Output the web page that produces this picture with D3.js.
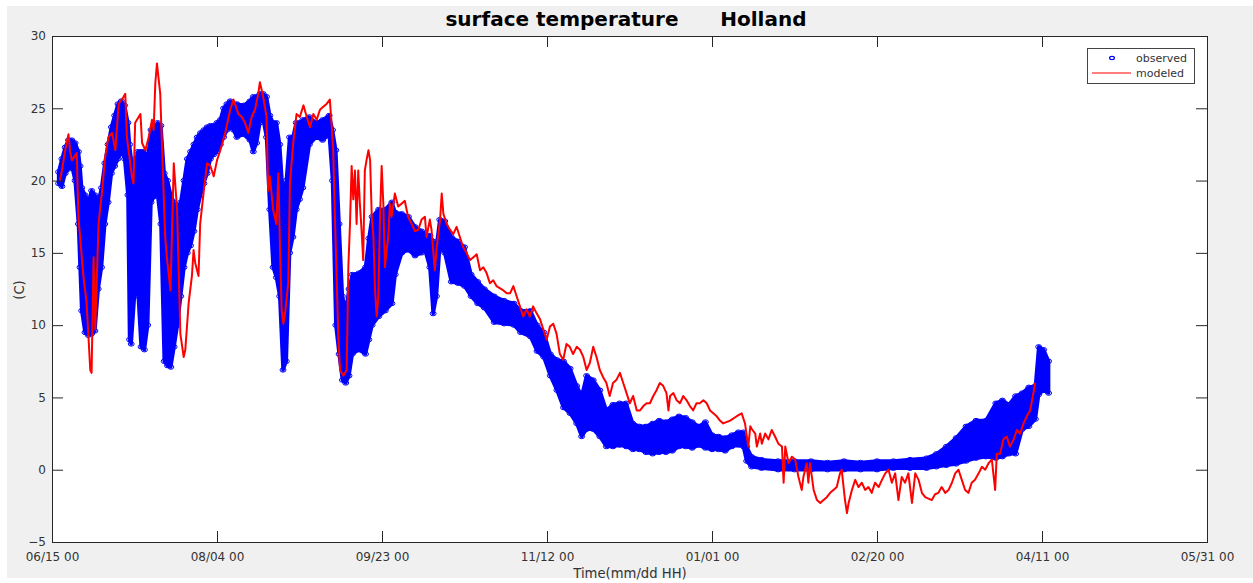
<!DOCTYPE html>
<html><head><meta charset="utf-8">
<script src="https://cdn.jsdelivr.net/npm/d3@7"></script>
<style>html,body{margin:0;padding:0;background:#fff;} svg{display:block;font-family:"DejaVu Sans",sans-serif;}</style>
</head><body><svg id="chart" width="1253" height="583"></svg>
<script>
const titleText = "surface temperature      Holland";
const xLabel = "Time(mm/dd HH)";
const yLabel = "(C)";
const seriesNames = ["observed", "modeled"];
const startDate = "2017-06-15";
const endDate = "2018-05-31";
const xTickDays = [0, 50, 100, 150, 200, 250, 300, 350];
const yTicks = [-5, 0, 5, 10, 15, 20, 25, 30];

// observed: day offset from start, lower / upper envelope of the scatter
const obsDay = [2,3,4,5,6,7,8,8.5,9,10,11,12,13,14,15,16,17,18,19,20,21,22,23,23.5,24,25,26,27,28,29,30,31,32,33,34,35,36,37,38,39,40,41,42,43,44,45,46,47,48,49,50,51,52,53,54,55,56,58,60,61,62,63,64,65,66,67,68,69,70,71,72,73,74,75,76,78,80,82,84,85,86,87,88,89,90,91,93,95,96,97,99,101,103,104,106,108,110,112,113,114.5,115.5,116.5,117.5,119,121,123,125,127,129,131,134,137,140,142,145,147,149,151,153,155,157,159,160.5,162,164,166,168,170,172,174,176,178,180,182,184,186,188,190,192,194,196,198,200,202,204,206,208,209.5,210.5,212,215,220,225,230,235,240,245,250,255,260,265,268,271,274,277,280,283,286,288,290,292,294,296,298,299,300.5,302];
const obsLow = [19.8,19.6,20.5,20.8,21.0,20.0,17.0,14.0,11.0,9.5,9.3,9.4,9.6,12.5,14.0,17.0,18.5,20.5,21.0,21.5,22.0,21.5,19.0,9.0,8.7,12.0,12.5,8.5,8.3,10.0,18.5,18.9,19.0,17.0,7.5,7.2,7.1,8.5,10.0,12.0,14.0,15.0,15.5,16.5,18.0,19.0,19.8,20.5,21.5,21.8,22.0,22.5,23.0,23.5,23.7,23.5,23.0,23.2,22.8,22.0,22.6,24.0,24.2,23.0,18.0,14.0,13.3,12.0,6.9,7.5,15.0,16.1,18.0,18.7,19.5,22.5,23.0,22.8,23.2,20.0,10.0,8.0,6.2,6.0,6.5,8.0,8.3,8.0,9.0,10.0,10.6,11.0,11.5,13.5,15.0,15.2,14.8,15.0,15.2,14.0,10.8,12.0,15.4,15.0,13.0,12.9,12.7,12.0,11.5,11.2,10.2,10.1,10.0,9.5,9.2,8.2,7.8,6.5,5.5,4.3,3.9,3.2,2.3,2.8,2.8,2.3,1.6,1.6,1.7,1.6,1.4,1.4,1.2,1.1,1.2,1.2,1.3,1.6,1.6,1.5,1.7,1.5,1.4,1.4,1.3,1.6,1.7,1.6,0.6,0.2,0.1,0.0,0.0,0.0,0.0,0.0,0.0,0.0,0.1,0.1,0.1,0.2,0.3,0.4,0.6,0.8,0.9,0.8,0.9,1.1,1.1,2.8,3.0,3.5,5.2,5.5,5.3];
const obsHigh = [20.6,21.5,22.3,22.8,22.8,22.6,22.0,21.0,19.5,19.0,18.5,19.3,19.0,18.5,19.5,21.2,22.5,23.7,24.5,25.3,25.5,25.2,24.0,22.5,21.5,21.0,22.0,22.0,22.0,21.5,23.5,23.7,24.0,23.8,20.5,20.0,19.0,18.5,18.2,18.5,20.0,21.5,22.0,22.5,23.0,23.3,23.5,23.7,23.8,23.8,24.0,24.2,25.0,25.3,25.5,25.3,25.3,25.2,25.5,25.8,25.8,26.0,26.0,25.8,24.5,24.0,24.0,22.5,19.0,20.0,23.0,23.0,24.0,24.0,24.2,24.4,24.0,24.2,24.5,23.5,22.1,17.0,12.0,11.0,12.5,13.5,13.6,14.0,16.0,17.5,18.0,18.0,18.5,17.8,17.7,17.5,16.8,16.5,16.3,16.2,15.8,15.5,17.3,17.2,16.1,15.8,15.4,13.5,13.0,12.5,12.0,11.7,11.5,11.0,11.0,10.0,9.5,8.0,7.6,7.5,7.0,5.8,5.1,6.5,6.2,5.5,4.1,4.5,4.6,4.6,3.2,3.0,3.0,3.2,3.4,3.3,3.5,3.7,3.6,3.3,3.0,3.3,2.4,2.3,2.2,2.4,2.6,2.6,1.6,0.9,0.7,0.6,0.6,0.6,0.5,0.6,0.5,0.6,0.6,0.7,0.8,1.1,1.6,2.2,3.0,3.4,3.4,4.6,4.8,4.5,5.1,5.3,5.7,5.8,8.5,8.3,7.5];

// modeled: day offset from start, temperature
const modDay = [
2.4,3,4,5,5.5,6,7.5,8,9.5,10.5,
11.6,12,12.6,13.1,14.1,15.1,16.1,17.1,18.2,19.2,
20.2,21.7,22.2,22.7,23.2,24.2,24.7,25.2,26.8,27.3,
28.3,29.3,30.3,30.8,31.3,31.8,32.8,33.3,34.3,34.8,
35.9,36.9,37.9,38.9,39.9,40.4,41.4,42.4,42.9,43.4,
44.4,44.9,46,47,48,49,50,51,52.5,54,
55,56.5,57.5,58.5,59.5,60.5,61.5,62.5,63,64,
65,65.5,66,67,68,68.6,69.1,69.6,70.1,70.6,
71.6,72.1,73.1,74.1,75.1,76.2,77.2,78.2,79.2,80.2,
81.2,82.2,83.2,84.2,84.7,85.2,85.8,86.3,86.8,87.3,
88.3,89.3,89.8,90.3,90.8,91.3,91.8,92.3,92.8,93.3,
93.8,94.3,94.8,95.3,95.9,96.4,96.9,97.4,97.9,98.4,
98.9,99.4,99.9,100.4,100.9,101.4,101.9,102.4,102.9,103.9,
104.9,105.9,106.9,107.9,109,110,111,112,113,113.5,
114.5,115,116,116.5,117.6,118.1,118.6,119.6,120.6,121.6,
122.6,123.6,124.6,125.6,126.7,127.7,128.7,129.7,130.7,131.7,
132.7,133.7,134.7,136.8,137.8,138.8,139.8,140.8,141.8,142.8,
143.8,144.8,145.8,146.9,147.9,148.9,149.9,150.9,151.9,152.9,
153.9,154.9,155.9,156.9,157.9,159,160,161,162,163,
164,165,166,167,168,169,170,171,172.1,173.1,
174.1,175.1,176.1,177.2,178.2,179.2,180.2,181.2,182.2,183.2,
184.2,185.2,186.2,186.8,187.3,188.3,189.3,190.3,191.3,192.3,
193.3,194.3,195.3,196.3,197.4,198.4,199.4,200.4,201.4,202.4,
203.4,205.5,207.5,209,210,211,211.6,212.1,213.1,213.6,
214.6,215.1,216.1,217.1,218.1,219.1,220.1,221.2,221.7,222.2,
223.2,224.2,225.2,226.2,227.2,227.7,228.7,229.2,229.7,230.8,
231.8,232.8,233.8,234.8,235.8,236.8,237.8,238.8,239.3,240.3,
240.9,241.4,242.4,243.4,244.4,245.4,246.4,247.4,248.4,249.4,
250.5,251.5,252.5,253.5,254.5,255.5,256.5,257.5,258.5,259.5,
260.6,261.6,262.6,263.6,264.6,265.6,266.6,267.6,268.6,269.6,
270.7,271.7,272.7,273.7,274.7,275.7,276.7,277.7,278.7,279.7,
280.8,281.8,282.8,283.8,284.8,285.8,286.3,287.3,288.3,289.3,
290.3,291.4,292.4,293.4,294.4,295.4,296.4,297.4,297.9];
const modTemp = [
20.0,20.7,22.1,23.2,22.0,21.4,21.9,17.5,13.4,11.5,
6.9,6.7,14.7,9.7,17.0,19.1,21.6,23.0,23.3,22.1,
25.3,25.8,26.0,23.0,22.1,20.3,19.8,24.0,24.6,22.6,
22.1,23.0,24.2,23.5,26.7,28.1,26.0,22.6,16.1,14.7,
12.4,21.2,18.0,9.4,7.8,8.3,11.5,13.4,15.2,14.3,
13.4,17.0,19.3,21.2,21.0,20.3,21.4,22.1,23.3,24.9,
25.6,24.6,24.4,24.0,23.3,24.4,24.9,26.0,26.8,25.8,
24.4,19.3,20.3,18.0,17.0,20.5,15.2,11.0,10.1,10.8,
12.9,19.8,22.6,24.6,24.4,25.2,24.4,23.7,24.6,24.2,
24.9,25.1,25.3,25.6,24.0,22.1,17.0,12.9,9.0,6.9,
6.5,6.9,14.0,17.0,21.0,18.7,20.7,17.0,20.7,18.4,
16.6,14.5,20.7,21.4,22.1,21.4,17.5,16.1,12.4,10.6,
12.0,17.5,21.0,18.4,14.0,15.2,16.1,18.4,17.5,19.1,
18.2,18.4,18.6,17.5,17.0,16.5,16.6,17.3,17.5,16.1,
17.3,16.6,13.8,15.2,17.3,19.1,17.7,17.0,16.6,16.3,
16.8,16.1,15.4,15.0,14.5,14.7,14.9,13.8,14.0,13.6,
12.9,13.1,12.7,12.4,12.2,12.2,12.7,12.0,11.3,10.6,
11.1,10.6,11.3,10.8,10.4,9.7,9.0,9.9,10.1,9.4,
8.0,7.6,8.7,8.5,8.0,8.5,8.3,7.8,6.9,7.4,
8.5,7.8,6.9,6.4,6.0,5.1,6.0,6.2,6.7,6.0,
5.3,4.6,5.1,4.1,4.1,4.4,4.6,4.6,5.1,5.5,
6.0,5.8,5.3,4.1,5.1,5.3,4.8,4.6,5.1,4.8,
4.4,4.1,4.6,4.6,4.8,4.6,4.1,3.9,3.7,3.4,
3.2,3.4,3.7,3.9,3.2,1.6,3.0,2.8,2.5,1.6,
2.5,1.8,2.5,2.1,2.75,2.3,1.8,1.6,-0.9,1.6,
0.45,0.9,0.7,-0.5,-1.4,-0.5,0.45,-0.9,0.45,-1.4,
-2.1,-2.3,-2.1,-1.9,-1.6,-1.4,-1.2,-0.25,0.0,-2.1,
-3.0,-2.3,-1.4,-0.7,-1.2,-0.9,-1.4,-1.2,-1.6,-0.9,
-1.2,-0.7,-0.25,0.0,-0.9,-0.25,-2.1,-0.5,-0.9,-0.25,
-2.3,-0.25,-0.7,-1.6,-1.9,-2.0,-2.1,-1.7,-1.6,-1.2,
-1.6,-1.4,-0.9,-0.25,0.0,-0.7,-1.4,-1.6,-0.9,-0.7,
-0.25,0.2,0.0,0.45,0.7,-1.4,1.1,1.1,2.1,2.3,
1.6,2.1,2.75,2.5,3.2,3.7,4.1,5.3,6.0];

const W = 1253, H = 583;
const P = {left: 52, right: 1207, top: 36, bottom: 542};
const svg = d3.select("#chart");

svg.append("rect").attr("x", 7).attr("y", 6).attr("width", W - 7).attr("height", 572).attr("fill", "#f0f0f0");
svg.append("rect").attr("x", P.left).attr("y", P.top).attr("width", P.right - P.left).attr("height", P.bottom - P.top).attr("fill", "#fff");

const t0 = new Date(startDate + "T00:00:00Z");
const toDate = d => new Date(t0.getTime() + d * 864e5);
const x = d3.scaleUtc().domain([t0, new Date(endDate + "T00:00:00Z")]).range([P.left, P.right]);
const y = d3.scaleLinear().domain([-5, 30]).range([P.bottom, P.top]);

svg.append("clipPath").attr("id", "clip").append("rect")
  .attr("x", P.left).attr("y", P.top).attr("width", P.right - P.left).attr("height", P.bottom - P.top);
const plot = svg.append("g").attr("clip-path", "url(#clip)");

const obs = obsDay.map((d, i) => ({d: toDate(d), lo: obsLow[i], hi: obsHigh[i]}));
const mod = modDay.map((d, i) => ({d: toDate(d), v: modTemp[i]}));
const BLUE = "#0000ff", RED = "#ff0000";

plot.append("path").datum(obs)
  .attr("d", d3.area().x(o => x(o.d)).y0(o => y(o.lo)).y1(o => y(o.hi)))
  .attr("fill", BLUE).attr("stroke", BLUE).attr("stroke-width", 3.5).attr("stroke-linejoin", "round");
const ends = obs.flatMap(o => [{d: o.d, v: o.lo}, {d: o.d, v: o.hi}]);
plot.append("g").selectAll("ellipse").data(ends).join("ellipse")
  .attr("cx", o => x(o.d)).attr("cy", o => y(o.v)).attr("rx", 3).attr("ry", 2.2)
  .attr("fill", "none").attr("stroke", BLUE).attr("stroke-width", 1);

plot.append("path").datum(mod)
  .attr("d", d3.line().x(o => x(o.d)).y(o => y(o.v)))
  .attr("fill", "none").attr("stroke", RED).attr("stroke-width", 2).attr("stroke-linejoin", "round");

// axes
const AX = "#262626";
function styleAxis(g) {
  g.select(".domain").remove();
  g.selectAll(".tick line").attr("stroke", AX);
  g.selectAll(".tick text").attr("fill", "#333").style("font-size", "12px").style("font-family", "DejaVu Sans");
}
const xTicks = xTickDays.map(toDate);
svg.append("g").attr("transform", `translate(0,${P.bottom})`)
  .call(d3.axisBottom(x).tickValues(xTicks).tickFormat(d3.utcFormat("%m/%d %H")).tickSizeInner(-11).tickSizeOuter(0).tickPadding(10))
  .call(styleAxis);
svg.append("g").attr("transform", `translate(0,${P.top})`)
  .call(d3.axisTop(x).tickValues(xTicks).tickFormat("").tickSizeInner(-11).tickSizeOuter(0))
  .call(styleAxis);
svg.append("g").attr("transform", `translate(${P.left},0)`)
  .call(d3.axisLeft(y).tickValues(yTicks).tickFormat(d3.format("d")).tickSizeInner(-11).tickSizeOuter(0).tickPadding(6))
  .call(styleAxis);
svg.append("g").attr("transform", `translate(${P.right},0)`)
  .call(d3.axisRight(y).tickValues(yTicks).tickFormat("").tickSizeInner(-11).tickSizeOuter(0))
  .call(styleAxis);
svg.append("rect").attr("x", P.left + 0.5).attr("y", P.top + 0.5).attr("width", P.right - P.left).attr("height", P.bottom - P.top)
  .attr("fill", "none").attr("stroke", AX).attr("stroke-width", 1);

// titles
svg.append("text").attr("x", 626).attr("y", 26).attr("text-anchor", "middle")
  .attr("xml:space", "preserve").style("white-space", "pre")
  .style("font-size", "20px").style("font-weight", "bold").attr("fill", "#000").text(titleText);
svg.append("text").attr("x", 630).attr("y", 578).attr("text-anchor", "middle")
  .style("font-size", "13.2px").attr("fill", "#333").text(xLabel);
svg.append("text").attr("transform", "translate(24,290) rotate(-90)").attr("text-anchor", "middle")
  .style("font-size", "13.2px").attr("fill", "#333").text(yLabel);

// legend
const lg = svg.append("g");
lg.append("rect").attr("x", 1087.5).attr("y", 48.5).attr("width", 107).attr("height", 35)
  .attr("fill", "#fff").attr("stroke", "#444").attr("stroke-width", 1);
lg.append("ellipse").attr("cx", 1112).attr("cy", 58).attr("rx", 2.4).attr("ry", 1.6)
  .attr("fill", "none").attr("stroke", BLUE).attr("stroke-width", 1.2);
lg.append("line").attr("x1", 1092).attr("x2", 1131).attr("y1", 73).attr("y2", 73)
  .attr("stroke", RED).attr("stroke-width", 1.2);
lg.selectAll("text").data(seriesNames).join("text")
  .attr("x", 1136).attr("y", (d, i) => 62 + i * 15)
  .style("font-size", "11px").attr("fill", "#333").text(d => d);
</script></body></html>
